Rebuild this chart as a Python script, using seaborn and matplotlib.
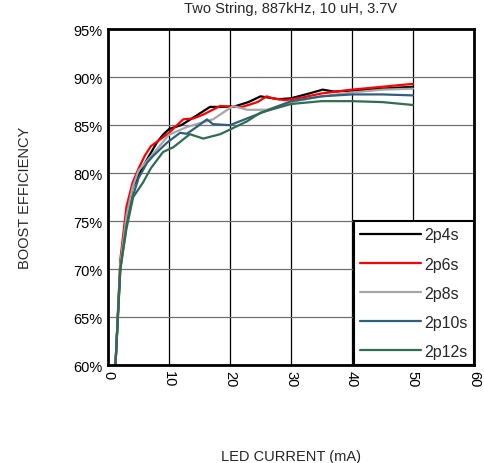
import matplotlib
matplotlib.use("Agg")

import pandas as pd
import matplotlib.pyplot as plt
import seaborn as sns
from matplotlib.ticker import FuncFormatter

# ===============================
# data
# ===============================
x_2p4s = [1.2, 2, 3, 4, 6, 8, 9, 10, 12, 14.5, 16.7, 19, 21, 23, 25, 28, 30, 33, 35.2, 37, 40, 45, 50]
y_2p4s = [60, 70.5, 75.5, 78.5, 81, 83.2, 84, 84.6, 85, 86, 86.9, 86.9, 87, 87.4, 88, 87.7, 87.8, 88.3, 88.7, 88.5, 88.6, 88.8, 89.0]

x_2p6s = [1.2, 2, 3, 4, 5, 6, 7, 8.5, 10, 12.3, 14, 15.6, 18.4, 20.5, 22, 24.5, 26, 27, 29, 32, 35, 40, 45, 50]
y_2p6s = [60, 71, 76.5, 79, 80.5, 81.8, 82.8, 83.5, 84.2, 85.6, 85.7, 86.1, 87, 86.9, 86.9, 87.4, 88, 87.8, 87.6, 87.9, 88.3, 88.7, 89.0, 89.3]

x_2p8s = [1.2, 2, 3, 4, 5, 6, 8, 10, 12.9, 15, 17.2, 20.5, 22.8, 26, 30, 35, 40, 45, 50]
y_2p8s = [60, 70.5, 75.5, 78.5, 80.3, 81, 82.5, 84, 84.8, 85.2, 85.6, 87, 86.6, 86.6, 87.4, 88, 88.4, 88.7, 88.8]

x_2p10s = [1.2, 2, 3, 4, 5, 6.4, 7.4, 9.7, 11.8, 12.9, 14.5, 16.2, 17.2, 20, 24.4, 30, 35, 40, 45, 50]
y_2p10s = [60, 70, 74.5, 77.5, 79.5, 81.1, 81.8, 83.2, 84.2, 84.1, 84.8, 85.6, 85.1, 85, 86.1, 87.5, 88, 88.2, 88.2, 88.1]

x_2p12s = [1.2, 2, 3, 4.1, 5.7, 7, 9, 10.7, 13.4, 15.6, 18.4, 22.8, 25, 30, 35, 40, 45, 50]
y_2p12s = [60, 70, 74.2, 77.5, 79, 80.5, 82.2, 82.7, 84.06, 83.6, 84.06, 85.4, 86.3, 87.2, 87.5, 87.5, 87.4, 87.1]

series = ["2p4s", "2p6s", "2p8s", "2p10s", "2p12s"]
colors = ["#000000", "#FF0000", "#A6A6A6", "#2F5F7E", "#2E6E4F"]

frames = []
for name, xs, ys in zip(series,
                        [x_2p4s, x_2p6s, x_2p8s, x_2p10s, x_2p12s],
                        [y_2p4s, y_2p6s, y_2p8s, y_2p10s, y_2p12s]):
    frames.append(pd.DataFrame({"current": xs, "eff": ys, "series": name}))
df = pd.concat(frames, ignore_index=True)

# ===============================
# plot
# ===============================
sns.set_style("white")
plt.rcParams['font.family'] = ['Liberation Sans', 'DejaVu Sans']

fig = plt.figure(figsize=(4.85, 4.64), dpi=100)
ax = fig.add_axes([0.223, 0.211, 0.754, 0.724])

sns.lineplot(
    data=df, x="current", y="eff", hue="series",
    hue_order=series, palette=colors,
    sort=False, estimator=None, linewidth=1.6, ax=ax
)

ax.set_xlim(0, 60)
ax.set_ylim(60, 95)
ax.set_xticks(range(0, 61, 10))
ax.set_yticks(range(60, 96, 5))
ax.yaxis.set_major_formatter(FuncFormatter(lambda v, p: f"{v:.0f}%"))
ax.tick_params(axis="both", length=0, labelsize=10.5, colors="black")
ax.tick_params(axis="y", pad=4)
for lab in ax.get_xticklabels():
    lab.set_rotation(-90)

ax.xaxis.grid(True, color="black", linewidth=0.9)
ax.yaxis.grid(True, color="#707070", linewidth=0.9)
ax.set_axisbelow(True)
for sp in ax.spines.values():
    sp.set_color("black")
    sp.set_linewidth(2)

ax.set_title("Two String, 887kHz, 10 uH, 3.7V", fontsize=10.5, pad=12)
ax.set_xlabel("LED CURRENT (mA)", fontsize=10.5, labelpad=45)
ax.set_ylabel("BOOST EFFICIENCY", fontsize=10.5, labelpad=30)

leg = ax.legend(loc="lower right", fontsize=11.5, frameon=True, fancybox=False,
                borderaxespad=0, handlelength=3.8, labelspacing=0.88, borderpad=0.4,
                handletextpad=0.2)
leg.get_frame().set_edgecolor("black")
leg.get_frame().set_linewidth(1.5)
leg.get_frame().set_alpha(1)

plt.savefig("out.png", dpi=100)
plt.close()
